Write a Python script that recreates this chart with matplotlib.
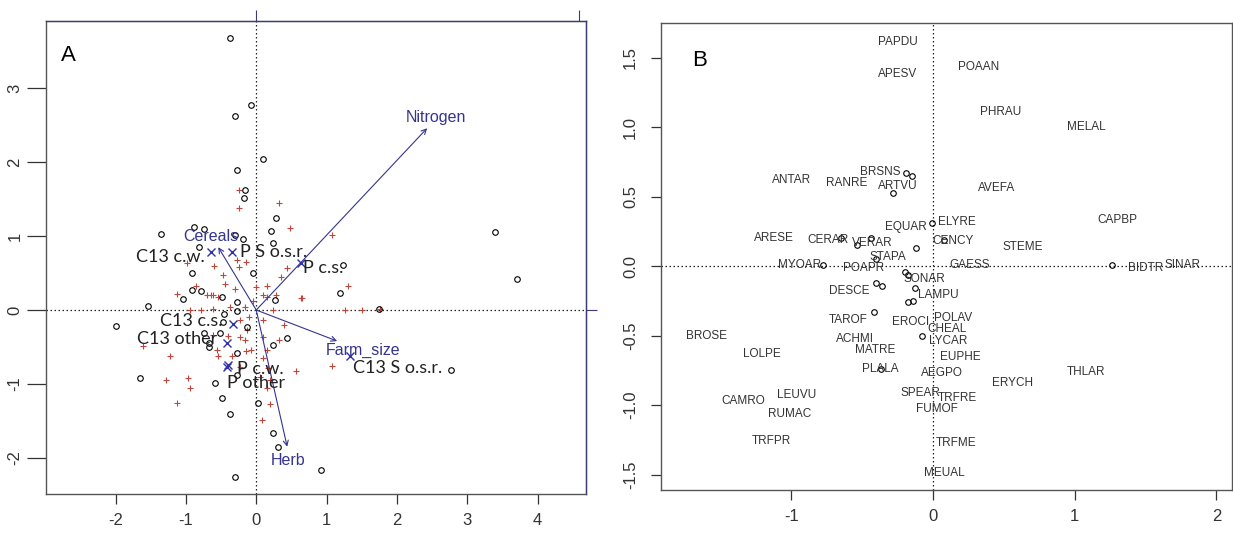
import matplotlib
matplotlib.use("Agg")
import matplotlib.pyplot as plt

plt.rcParams["axes.unicode_minus"] = False

# ---- panel A: sites (circles), species (plus), centroids (x), env arrows ----
site_x = [-0.37, -0.07, -0.30, 0.10, -0.27, -0.16, -0.17, 0.28, 0.21, -1.35, -0.88, -0.75,
          -0.30, -0.19, -0.82, 0.24, -0.91, -0.05, -0.91, -0.78, -1.04, -0.48, 0.26, -1.54,
          -0.28, -0.27, -0.46, -0.47, -0.13, -0.51, -0.75, -0.67, -0.67, 0.24, 0.44, -0.28,
          -1.65, -0.58, -0.48, 0.02, -0.27, -0.37, 0.24, 0.31, -0.30, -1.99, 1.24, 1.19,
          1.75, 3.71, 2.77, 0.92, 3.39]
site_y = [3.68, 2.78, 2.62, 2.04, 1.89, 1.62, 1.51, 1.24, 1.07, 1.03, 1.13, 1.09,
          1.01, 0.96, 0.85, 0.91, 0.50, 0.50, 0.27, 0.26, 0.15, 0.18, 0.14, 0.05,
          0.11, -0.01, -0.05, -0.16, -0.23, -0.31, -0.31, -0.45, -0.50, -0.47, -0.38, -0.58,
          -0.92, -0.99, -1.19, -1.26, -0.88, -1.41, -1.66, -1.86, -2.26, -0.22, 0.61, 0.23,
          0.01, 0.42, -0.81, -2.17, 1.05]

spec_x = [-0.24, -0.24, 0.33, 0.48, 1.08, -0.98, -0.60, -0.25, -0.15, -0.27, 0.44,
          -1.12, -0.70, -0.65, -0.61, -0.55, 0.00, 0.16, 0.09, 0.16, 0.64, 1.31,
          -0.94, -0.78, -0.61, -0.37, -0.16, 0.24, -0.11, -0.23, 0.10, -0.13, -0.23, -0.16,
          -0.08, 0.10, 0.16, 0.10, 0.17, -0.23, -1.61, -1.22, -1.28, -0.97, -0.94, -1.12,
          -0.56, -0.55, -0.61, 0.57, 0.06, 0.20, 0.15, 0.20, 0.08, -0.35, -0.40, -0.15,
          1.26, 1.51, 1.76, 1.08, 0.65, 0.35, 0.28, -0.45, -0.85, -0.47, -0.30, -0.05,
          0.40, 0.33]
spec_y = [1.62, 1.38, 1.45, 1.11, 1.01, 0.63, 0.59, 0.58, 0.65, 0.68, 0.57,
          0.22, 0.20, 0.20, 0.20, 0.18, 0.31, 0.32, 0.20, 0.18, 0.16, 0.32,
          0.00, 0.00, 0.01, 0.04, 0.04, 0.00, -0.10, -0.14, -0.14, -0.27, -0.36, -0.40,
          -0.54, -0.36, -0.54, -0.65, -0.78, -0.77, -0.49, -0.62, -0.95, -0.92, -1.05, -1.26,
          -0.54, -0.62, -0.34, -0.82, -0.90, -0.95, -1.05, -1.27, -1.49, -0.62, -0.35, -0.55,
          0.00, 0.00, 0.01, -0.76, 0.16, 0.45, 0.20, 0.35, 0.33, 0.47, 0.28, 0.12,
          -0.20, -0.40]

cent_names = ["C13 c.w.", "P S o.s.r.", "P c.s.", "C13 c.s.", "C13 other",
              "P c.w.", "P other", "C13 S o.s.r."]
cent_x = [-0.65, -0.34, 0.64, -0.33, -0.41, -0.40, -0.42, 1.34]
cent_y = [0.78, 0.78, 0.64, -0.19, -0.45, -0.74, -0.77, -0.62]
cent_lab_x = [-0.73, -0.23, 0.67, -0.48, -0.55, -0.28, -0.41, 1.38]
cent_lab_y = [0.72, 0.78, 0.57, -0.15, -0.39, -0.80, -0.99, -0.78]
cent_lab_ha = ["right", "left", "left", "right", "right", "left", "left", "left"]

env_names = ["Nitrogen", "Cereals", "Farm_size", "Herb"]
env_x = [2.43, -0.54, 1.15, 0.44]
env_y = [2.46, 0.85, -0.42, -1.85]
env_lab_x = [2.55, -0.65, 1.52, 0.45]
env_lab_y = [2.61, 0.99, -0.55, -2.04]

# ---- panel B: species labels and site circles ----
sp_names = ["PAPDU", "APESV", "BRSNS", "ANTAR", "RANRE", "ARTVU", "EQUAR", "ARESE",
            "CERAR", "VERAR", "STAPA", "MYOAR", "POAPR", "SONAR", "LAMPU", "DESCE",
            "TAROF", "EROCI", "POLAV", "CHEAL", "LYCAR", "ACHMI", "MATRE", "EUPHE",
            "PLALA", "AEGPO", "SPEAR", "TRFRE", "FUMOF", "TRFME", "MEUAL", "BROSE",
            "LOLPE", "CAMRO", "LEUVU", "RUMAC", "TRFPR", "POAAN", "PHRAU", "MELAL",
            "AVEFA", "ELYRE", "CENCY", "STEME", "CAPBP", "GAESS", "BIDTR", "SINAR",
            "THLAR", "ERYCH"]
sp_x = [-0.25, -0.25, -0.37, -1.00, -0.61, -0.25, -0.19, -1.12,
        -0.74, -0.43, -0.32, -0.94, -0.49, -0.06, 0.04, -0.59,
        -0.60, -0.16, 0.14, 0.10, 0.11, -0.55, -0.41, 0.19,
        -0.37, 0.06, -0.09, 0.17, 0.03, 0.16, 0.08, -1.60,
        -1.21, -1.34, -0.96, -1.01, -1.14, 0.32, 0.48, 1.08,
        0.45, 0.17, 0.14, 0.63, 1.30, 0.26, 1.50, 1.76,
        1.08, 0.56]
sp_y = [1.61, 1.38, 0.68, 0.62, 0.60, 0.58, 0.28, 0.20,
        0.19, 0.17, 0.07, 0.01, -0.01, -0.09, -0.21, -0.18,
        -0.39, -0.40, -0.37, -0.45, -0.54, -0.52, -0.60, -0.65,
        -0.74, -0.77, -0.91, -0.95, -1.03, -1.27, -1.49, -0.50,
        -0.63, -0.97, -0.93, -1.06, -1.26, 1.43, 1.11, 1.00,
        0.56, 0.32, 0.18, 0.14, 0.33, 0.01, -0.01, 0.01,
        -0.76, -0.84]

b_site_x = [-0.19, -0.15, -0.28, -0.01, -0.65, -0.54, -0.44, -0.12, -0.40, -0.78, -0.20,
            -0.18, -0.40, -0.36, -0.13, -0.18, -0.14, -0.42, 0.08, -0.08, -0.37, 1.26]
b_site_y = [0.67, 0.65, 0.53, 0.31, 0.20, 0.15, 0.20, 0.13, 0.05, 0.01, -0.04,
            -0.06, -0.12, -0.14, -0.16, -0.26, -0.25, -0.33, 0.19, -0.50, -0.74, 0.01]

a_xticks = [-2, -1, 0, 1, 2, 3, 4]
a_yticks = [-2, -1, 0, 1, 2, 3]
b_xticks = [-1, 0, 1, 2]
b_yticks = [-1.5, -1.0, -0.5, 0.0, 0.5, 1.0, 1.5]
b_ytick_labels = ["-1.5", "-1.0", "-0.5", "0.0", "0.5", "1.0", "1.5"]

NAVY = "#35358f"
RED = "#c0463c"
TICK_FONT = "Liberation Sans"


def style_axes(ax, ylen):
    ax.tick_params(axis="x", direction="out", length=7.5, width=0.9, pad=6,
                   labelsize=12, colors="#333333")
    ax.tick_params(axis="y", direction="out", length=ylen, width=0.9, pad=3,
                   labelsize=12, colors="#333333", labelrotation=90)
    for lab in ax.get_yticklabels() + ax.get_xticklabels():
        lab.set_fontfamily(TICK_FONT)
    for lab in ax.get_yticklabels():
        lab.set_va("center")
    ax.axhline(0, color="#222222", lw=0.9, ls=(0, (1.2, 2)), zorder=1)
    ax.axvline(0, color="#222222", lw=0.9, ls=(0, (1.2, 2)), zorder=1)


fig = plt.figure(figsize=(12.33, 5.35), dpi=100)

# ---------------- panel A ----------------
axA = fig.add_axes([0.0373, 0.0766, 0.438, 0.884])
axA.set_xlim(-2.99, 4.69)
axA.set_ylim(-2.49, 3.91)
axA.set_xticks(a_xticks)
axA.set_yticks(a_yticks)
style_axes(axA, 14)
for side in ["left", "bottom"]:
    axA.spines[side].set_color("#555555")
for side in ["top", "right"]:
    axA.spines[side].set_color("#3b3b7a")
for sp in axA.spines.values():
    sp.set_linewidth(1.0)

topax = axA.secondary_xaxis("top")
topax.set_xticks([0, 4.59])
topax.set_xticklabels([])
topax.tick_params(length=8, color="#3b3b7a")
rightax = axA.secondary_yaxis("right")
rightax.set_yticks([0])
rightax.set_yticklabels([])
rightax.tick_params(length=8, color="#3b3b7a")

axA.plot(spec_x, spec_y, "+", color=RED, ms=4.5, mew=0.8, zorder=2)
axA.plot(site_x, site_y, "o", mfc="none", mec="black", ms=4, mew=0.8, zorder=3)

for name, x, y, lx, ly in zip(env_names, env_x, env_y, env_lab_x, env_lab_y):
    axA.annotate("", xy=(x, y), xytext=(0, 0),
                 arrowprops=dict(arrowstyle="->", color=NAVY, lw=0.8,
                                 shrinkA=0, shrinkB=0, mutation_scale=9),
                 zorder=4)
    axA.text(lx, ly, name, color=NAVY, fontsize=11.5, family=TICK_FONT,
             ha="center", va="center", zorder=5)

axA.plot(cent_x, cent_y, "x", color="#3030a8", ms=5.5, mew=1.0, zorder=5)
for name, lx, ly, ha in zip(cent_names, cent_lab_x, cent_lab_y, cent_lab_ha):
    axA.text(lx, ly, name, color="#222222", fontsize=13, family="Lato",
             ha=ha, va="center", zorder=6)

axA.text(0.042, 0.927, "A", transform=axA.transAxes, fontsize=16,
         family=TICK_FONT, ha="center", va="center")

# ---------------- panel B ----------------
axB = fig.add_axes([0.5361, 0.0841, 0.4631, 0.8729])
axB.set_xlim(-1.92, 2.11)
axB.set_ylim(-1.61, 1.75)
axB.set_xticks(b_xticks)
axB.set_yticks(b_yticks)
axB.set_yticklabels(b_ytick_labels)
style_axes(axB, 7.5)
axB.tick_params(axis="y", pad=9)
for sp in axB.spines.values():
    sp.set_color("#555555")
    sp.set_linewidth(1.0)

axB.plot(b_site_x, b_site_y, "o", mfc="none", mec="black", ms=4, mew=0.8, zorder=3)
for name, x, y in zip(sp_names, sp_x, sp_y):
    axB.text(x, y, name, color="#333333", fontsize=8.5, family=TICK_FONT,
             ha="center", va="center", zorder=4)

axB.text(0.067, 0.92, "B", transform=axB.transAxes, fontsize=16,
         family=TICK_FONT, ha="center", va="center")

fig.savefig("out.png", dpi=100)
